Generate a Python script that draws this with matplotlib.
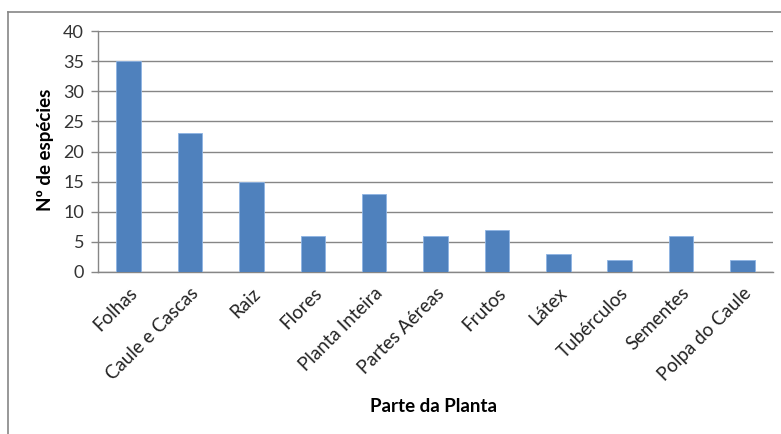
import matplotlib
matplotlib.use('Agg')
import matplotlib.pyplot as plt
from matplotlib.lines import Line2D
import numpy as np

# data
partes = ['Folhas', 'Caule e Cascas', 'Raiz', 'Flores', 'Planta Inteira', 'Partes Aéreas',
          'Frutos', 'Látex', 'Tubérculos', 'Sementes', 'Polpa do Caule']
especies = [35, 23, 15, 6, 13, 6, 7, 3, 2, 6, 2]
yticks = [0, 5, 10, 15, 20, 25, 30, 35, 40]

plt.rcParams['font.family'] = ['Lato', 'DejaVu Sans']

W, H = 781, 434
fig = plt.figure(figsize=(W / 100, H / 100), dpi=100)
ax = fig.add_axes([98 / W, 1 - 272 / H, (773 - 98) / W, (272 - 31) / H])

x = np.arange(len(partes))
ax.bar(x, especies, width=0.4, color='#4F81BD', edgecolor='#8EB4E3', linewidth=0.6, zorder=3)

ax.set_xlim(-0.5, len(partes) - 0.5)
ax.set_ylim(0, 40)
ax.set_yticks(yticks)
ax.set_yticklabels([str(v) for v in yticks], fontsize=13, color='#333333')
ax.set_xticks(x)
ax.set_xticklabels(partes, rotation=45, ha='right', rotation_mode='anchor',
                   fontsize=13.5, color='#222222')
ax.tick_params(axis='x', length=0, pad=9)
ax.tick_params(axis='y', length=5, color='#868686', width=1, pad=5)

ax.yaxis.grid(True, color='#868686', linewidth=1, zorder=0)
for s in ['top', 'right']:
    ax.spines[s].set_visible(False)
ax.spines['left'].set_color('#868686')
ax.spines['bottom'].set_color('#868686')
ax.spines['left'].set_linewidth(1)
ax.spines['bottom'].set_linewidth(1)

fig.text(46 / W, 1 - 150 / H, 'Nº de espécies', rotation=90, ha='center', va='center',
         fontsize=13.5, fontweight='bold')
fig.text(434 / W, 1 - 406 / H, 'Parte da Planta', ha='center', va='center',
         fontsize=13.5, fontweight='bold')

# outer chart frame (left and top visible)
fig.add_artist(Line2D([8 / W, 8 / W], [0, 1 - 12 / H], transform=fig.transFigure,
                      color='#868686', linewidth=1.2))
fig.add_artist(Line2D([8 / W, 1], [1 - 12 / H, 1 - 12 / H], transform=fig.transFigure,
                      color='#868686', linewidth=1.2))

fig.savefig('out.png', dpi=100)
